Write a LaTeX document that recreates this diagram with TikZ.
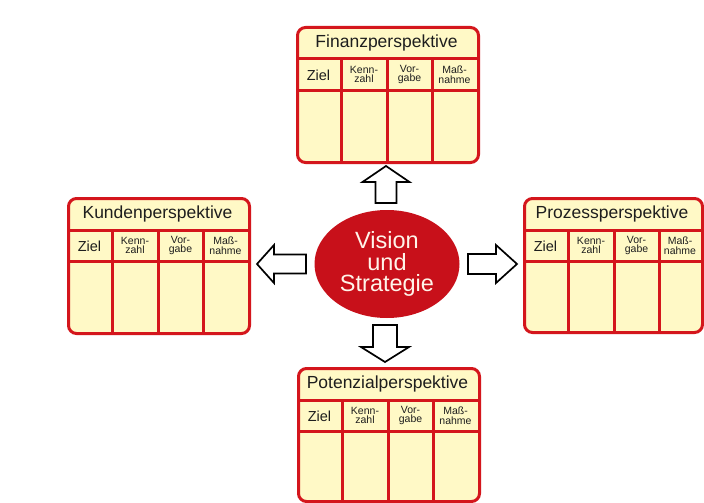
\documentclass[tikz,border=0pt]{standalone}
\usepackage{fontspec}
\setmainfont{Liberation Sans}
\usetikzlibrary{shapes.geometric}

\definecolor{boxred}{HTML}{D4161C}
\definecolor{boxfill}{HTML}{FFF9C6}
\definecolor{coreRed}{HTML}{C8101A}
\definecolor{coreText}{HTML}{FFF4EA}
\definecolor{ink}{HTML}{1E1E1E}

\tikzset{
  frame/.style={draw=boxred, line width=3pt, fill=boxfill, rounded corners=8pt, inner sep=0pt},
  rule/.style={draw=boxred, line width=3pt},
  titletext/.style={font=\fontsize{17.5}{18}\selectfont, text=ink, inner sep=0pt},
  headtext/.style={font=\fontsize{10.5}{9.6}\selectfont, text=ink, align=center, inner sep=0pt},
  zieltext/.style={font=\fontsize{14.5}{14}\selectfont, text=ink, inner sep=0pt},
  blockarrow/.style={draw=black, line width=1.7pt, fill=white, line join=miter},
}

% One scorecard table: name, left, top, width, height, title
\newcommand\perspective[6]{%
  \begin{scope}[shift={(#2,#3)}]
    \node[frame, anchor=north west, minimum width=#4pt, minimum height=#5pt] (#1) at (0,0) {};
    \draw[rule] (0,33) -- (#4,33);
    \draw[rule] (0,64) -- (#4,64);
    \draw[rule] (45,33) -- (45,#5);
    \draw[rule] (91,33) -- (91,#5);
    \draw[rule] (136,33) -- (136,#5);
    \node[titletext] (#1-title) at (#4/2,17) {#6};
    \node[zieltext] (#1-ziel) at (22.5,49) {Ziel};
    \node[headtext] (#1-kenn) at (68,48.5) {Kenn-\\zahl};
    \node[headtext] (#1-vorg) at (113.5,48.5) {Vor-\\gabe};
    \node[headtext] (#1-mass) at ({136+(#4-136)/2},48.5) {Maß-\\nahme};
  \end{scope}}

% Hollow block arrow: tip x, tip y, angle, length, head length, head half width, shaft half width
\newcommand\blockarrowat[7]{%
  \draw[blockarrow, shift={(#1,#2)}, rotate=#3]
    (0,0) -- (-#5,#6) -- (-#5,#7) -- (-#4,#7) -- (-#4,-#7) -- (-#5,-#7) -- (-#5,-#6) -- cycle;}

\begin{document}
\begin{tikzpicture}[x=1pt, y=-1pt]
  \fill[white] (0,0) rectangle (704,503);
  \useasboundingbox (0,0) rectangle (704,503);

  \perspective{finanz}{296}{26}{181}{135}{Finanzperspektive}
  \perspective{kunden}{67}{197}{181}{135}{Kundenperspektive}
  \perspective{prozess}{523}{197}{178}{134}{Prozessperspektive}
  \perspective{potenzial}{297}{367}{181}{133}{Potenzialperspektive}

  \node[ellipse, fill=coreRed, minimum width=145pt, minimum height=108pt, inner sep=0pt,
        text=coreText, align=center, font=\fontsize{23.5}{21.5}\selectfont]
    (core) at (387,264) {Vision\\und\\Strategie};

  \blockarrowat{386}{166}{90}{37}{16}{23.5}{10.5}
  \blockarrowat{385}{362}{-90}{37}{15}{24}{12}
  \blockarrowat{257}{264}{180}{49}{17}{19}{9.5}
  \blockarrowat{517}{264}{0}{49}{21}{19}{10}
\end{tikzpicture}
\end{document}
